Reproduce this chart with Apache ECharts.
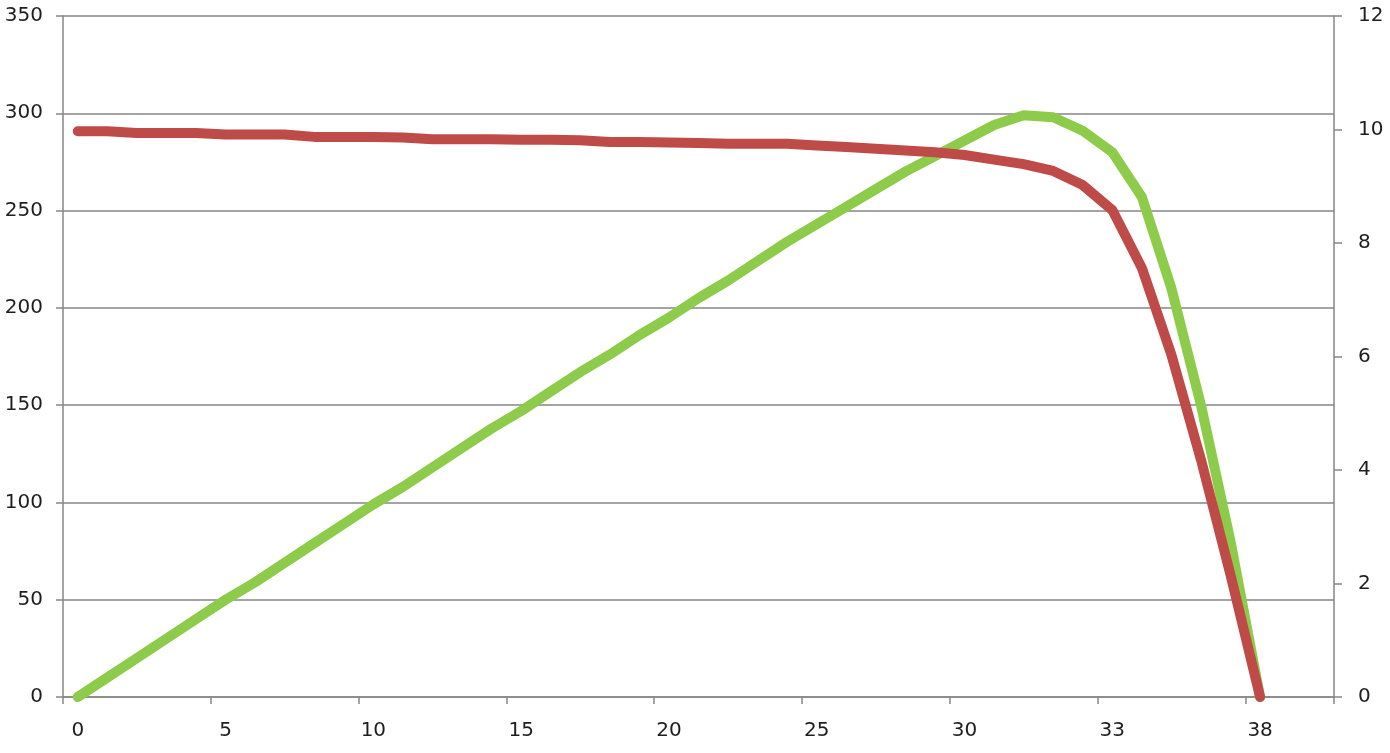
<!DOCTYPE html>
<html>
<head>
<meta charset="utf-8">
<script src="https://cdn.jsdelivr.net/npm/echarts@6/dist/echarts.min.js"></script>
<style>
html,body{margin:0;padding:0;background:#fff;}
#chart{width:1390px;height:753px;}
</style>
</head>
<body>
<div id="chart"></div>
<script>
// Voltage categories (x axis)
const categories = ['0','1','2','3','4','5','6','7','8','9','10','11','12','13','14','15','16','17','18','19','20','21','22','23','24','25','26','27','28','29','30','31','31.5','32','32.5','33','34','35','36','37','38','39','40'];
// Power (left axis)
const power = [0,10,20,30,40,50,59,69,79,89,99,108,118,128,138,147,157,167,176,186,195,205,214,224,234,243,252,261,270,278,286,294,299,298,291,280,257,210,150,80,0];
// Current (right axis)
const current = [9.97,9.97,9.94,9.94,9.94,9.91,9.91,9.91,9.87,9.87,9.87,9.86,9.83,9.83,9.83,9.82,9.82,9.81,9.78,9.78,9.77,9.76,9.75,9.75,9.75,9.72,9.69,9.66,9.63,9.60,9.55,9.47,9.39,9.27,9.02,8.58,7.56,6.03,4.18,2.15,0];

const leftTicks = {min:0,max:350,interval:50};
const rightTicks = {min:0,max:12,interval:2};

const axisColor = '#868686';
const labelStyle = {color:'#1e1e1e', fontFamily:'DejaVu Sans', fontSize:20};

const chart = echarts.init(document.getElementById('chart'));
chart.setOption({
  animation:false,
  grid:{left:63,right:56,top:16,bottom:56,containLabel:false},
  xAxis:{
    type:'category',
    data:categories,
    boundaryGap:true,
    axisLine:{lineStyle:{color:axisColor,width:1.5}},
    axisTick:{show:true,interval:4,length:7,alignWithLabel:false,lineStyle:{color:axisColor,width:1.5}},
    axisLabel:Object.assign({interval:4,margin:24},labelStyle),
    splitLine:{show:false}
  },
  yAxis:[
    {
      type:'value',
      min:leftTicks.min,max:leftTicks.max,interval:leftTicks.interval,
      position:'left',
      axisLine:{show:true,lineStyle:{color:axisColor,width:1.5}},
      axisTick:{show:true,length:7,lineStyle:{color:axisColor,width:1.5}},
      axisLabel:Object.assign({margin:20},labelStyle),
      splitLine:{show:true,lineStyle:{color:axisColor,width:1.5}}
    },
    {
      type:'value',
      min:rightTicks.min,max:rightTicks.max,interval:rightTicks.interval,
      position:'right',
      axisLine:{show:true,lineStyle:{color:axisColor,width:1.5}},
      axisTick:{show:true,length:8,lineStyle:{color:axisColor,width:1.5}},
      axisLabel:Object.assign({margin:24},labelStyle),
      splitLine:{show:false}
    }
  ],
  series:[
    {
      type:'line',
      name:'Power',
      yAxisIndex:0,
      data:power,
      showSymbol:false,
      symbol:'none',
      lineStyle:{color:'#8DCB4A',width:10,cap:'round',join:'round'},
      itemStyle:{color:'#8DCB4A'},
      z:2
    },
    {
      type:'line',
      name:'Current',
      yAxisIndex:1,
      data:current,
      showSymbol:false,
      symbol:'none',
      lineStyle:{color:'#BE4B48',width:10,cap:'round',join:'round'},
      itemStyle:{color:'#BE4B48'},
      z:3
    }
  ]
});
</script>
</body>
</html>
